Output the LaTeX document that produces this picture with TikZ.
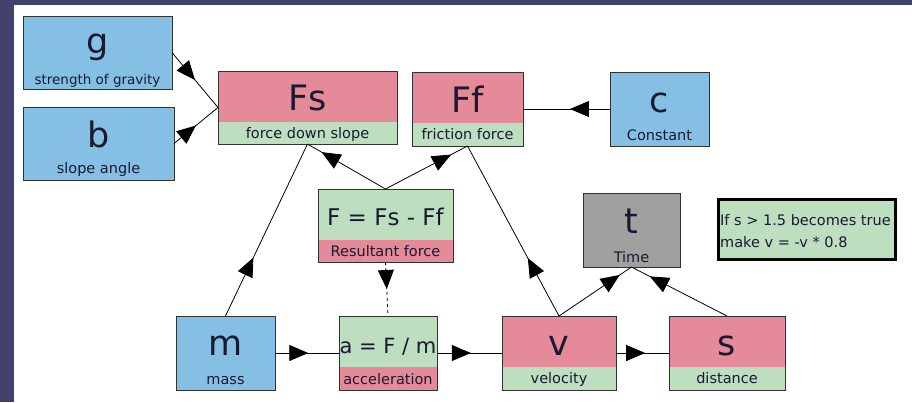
\documentclass[tikz,border=0pt]{standalone}
\usepackage{fontspec}
\setmainfont{DejaVu Sans}
\usetikzlibrary{arrows.meta,decorations.markings}
\definecolor{navy}{RGB}{66,64,108}
\definecolor{boxblue}{RGB}{133,192,228}
\definecolor{boxpink}{RGB}{228,138,153}
\definecolor{boxgreen}{RGB}{190,222,192}
\definecolor{boxgray}{RGB}{160,160,160}
\definecolor{txt}{RGB}{25,25,50}
\definecolor{edge}{RGB}{50,50,50}
\tikzset{
  frame/.style={draw=edge, line width=1pt, inner sep=0pt, outer sep=0pt},
  big/.style={font=\fontsize{35}{35}\selectfont, text=txt, anchor=base, inner sep=0pt},
  mid/.style={font=\fontsize{23}{23}\selectfont, text=txt, anchor=base, inner sep=0pt},
  small/.style={font=\fontsize{14.5}{14.5}\selectfont, text=txt, anchor=base, inner sep=0pt},
  notetext/.style={font=\fontsize{14.5}{14.5}\selectfont, text=txt, anchor=base west, inner sep=0pt},
  conn/.style={draw=black, line width=0.8pt},
  tipat/.style={postaction={decorate}, decoration={markings, mark=at position #1 with {\arrow{Triangle[length=19pt,width=16pt]}}}},
}
\newcommand{\splitbox}[8]{%
  \fill[#7] (#2,#3) rectangle (#4,#6);
  \fill[#8] (#2,#6) rectangle (#4,#5);
  \node[frame, minimum width={(#4-#2)*1pt}, minimum height={(#5-#3)*1pt}] (#1) at ({(#2+#4)/2},{(#3+#5)/2}) {};
}
\begin{document}
\begin{tikzpicture}[x=1pt,y=-1pt]
\useasboundingbox (0,0) rectangle (912,402);
\fill[navy] (0,0) rectangle (912,402);
\fill[white] (14,5) rectangle (912,402);

\splitbox{g}{23}{16}{172}{89}{89}{boxblue}{boxblue}
\splitbox{b}{23}{107}{174}{180}{180}{boxblue}{boxblue}
\splitbox{Fs}{218}{71}{397}{144}{122}{boxpink}{boxgreen}
\splitbox{Ff}{412}{72}{523}{146}{123}{boxpink}{boxgreen}
\splitbox{c}{610}{72}{709}{146}{146}{boxblue}{boxblue}
\splitbox{F}{318}{189}{453}{262}{240}{boxgreen}{boxpink}
\splitbox{t}{583}{193}{680}{267}{267}{boxgray}{boxgray}
\splitbox{m}{176}{316}{275}{390}{390}{boxblue}{boxblue}
\splitbox{a}{339}{316}{437}{390}{367}{boxgreen}{boxpink}
\splitbox{v}{502}{316}{616}{390}{367}{boxpink}{boxgreen}
\splitbox{s}{669}{316}{785}{390}{367}{boxpink}{boxgreen}

\node[big] (gT) at (97.5,53) {g};
\node[small, font=\fontsize{13.5}{13.5}\selectfont] (gL) at (97.5,84) {strength of gravity};
\node[big] (bT) at (98.5,147) {b};
\node[small] (bL) at (98.5,173) {slope angle};
\node[big] (FsT) at (307.5,110) {Fs};
\node[small] (FsL) at (307.5,138) {force down slope};
\node[big] (FfT) at (467.5,112) {Ff};
\node[small] (FfL) at (467.5,139) {friction force};
\node[big] (cT) at (659.5,112) {c};
\node[small] (cL) at (659.5,140) {Constant};
\node[mid] (FT) at (385.5,225) {F = Fs - Ff};
\node[small] (FL) at (385.5,256) {Resultant force};
\node[big] (tT) at (631.5,233) {t};
\node[small] (tL) at (631.5,262) {Time};
\node[big] (mT) at (225.5,355) {m};
\node[small] (mL) at (225.5,384) {mass};
\node[mid, font=\fontsize{21}{21}\selectfont] (aT) at (388,353) {a = F / m};
\node[small] (aL) at (388,384) {acceleration};
\node[big] (vT) at (559,355) {v};
\node[small] (vL) at (559,383) {velocity};
\node[big] (sT) at (727,355) {s};
\node[small] (sL) at (727,383) {distance};

\node[draw=black, line width=3pt, fill=boxgreen, minimum width=177pt, minimum height=60pt, inner sep=0pt] (note) at (807,229.5) {};
\node[notetext] (n1) at (720,225) {If s > 1.5 becomes true};
\node[notetext] (n2) at (720,247) {make v = -v * 0.8};

\draw[conn, tipat=0.5] (g.east) -- (Fs.west);
\draw[conn, tipat=0.5] (b.east) -- (Fs.west);
\draw[conn, tipat=0.46] (c.west) -- (Ff.east);
\draw[conn, tipat=0.34] (m.north) -- (Fs.south);
\draw[conn, tipat=0.82] (F.north) -- (Fs.south);
\draw[conn, tipat=0.8] (F.north) -- (Ff.south);
\draw[conn, tipat=0.34] (v.north) -- (Ff.south);
\draw[conn, dash pattern=on 3pt off 3pt, tipat=0.5] (F.south) -- (a.north);
\draw[conn, tipat=0.52] (m.east) -- (a.west);
\draw[conn, tipat=0.52] (a.east) -- (v.west);
\draw[conn, tipat=0.55] (v.east) -- (s.west);
\draw[conn, tipat=0.84] (v.north) -- (t.south);
\draw[conn, tipat=0.81] (s.north) -- (t.south);
\end{tikzpicture}
\end{document}
